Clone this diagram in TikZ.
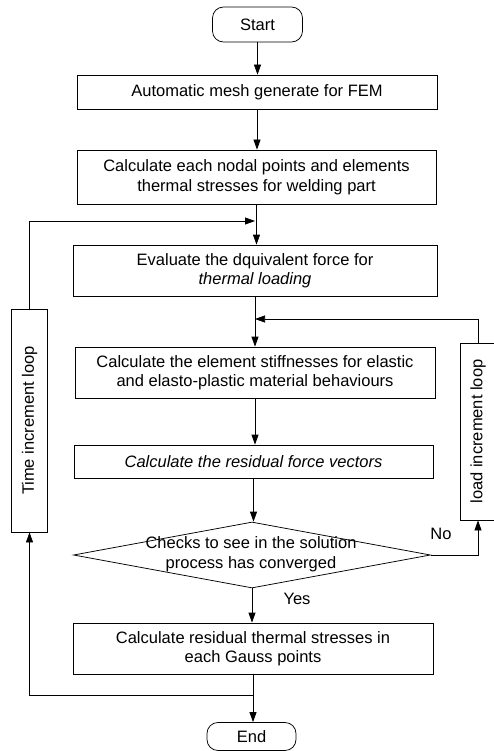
\documentclass[tikz,border=0pt]{standalone}
\usepackage{fontspec}
\setmainfont{Liberation Sans}
\usetikzlibrary{arrows.meta,shapes.geometric}
\begin{document}
\begin{tikzpicture}[x=1pt,y=-1pt,
  font=\fontsize{16.5}{19.5}\selectfont,
  line width=0.75pt,
  box/.style={draw, rectangle, align=center, inner sep=0pt},
  term/.style={draw, rectangle, rounded corners=11pt, inner sep=0pt},
  arr/.style={-{Triangle[length=10pt,width=7pt]}}]
\useasboundingbox (0,0) rectangle (494,751);
% main column
\node[term, minimum width=90pt, minimum height=35pt] (start) at (257.5,24.5) {Start};
\node[box, minimum width=360pt, minimum height=34pt] (b1) at (257,92) {Automatic mesh generate for FEM};
\node[box, minimum width=359pt, minimum height=54pt] (b2) at (256.5,177) {Calculate each nodal points and elements\\thermal stresses for welding part};
\node[box, minimum width=364pt, minimum height=51pt] (b3) at (255,270.5) {Evaluate the dquivalent force for\\\textit{thermal loading}};
\node[box, minimum width=360pt, minimum height=51pt] (b4) at (255,372.5) {Calculate the element stiffnesses for elastic\\and elasto-plastic material behaviours};
\node[box, minimum width=359pt, minimum height=33pt] (b5) at (253.5,461.5) {\textit{Calculate the residual force vectors}};
\node[draw, diamond, minimum width=357pt, minimum height=66pt, inner sep=0pt] (chk) at (252,555) {};
\node[align=center, inner sep=0pt] (chktxt) at (251,554) {Checks to see in the solution\\process has converged};
\node[box, minimum width=360pt, minimum height=51pt] (b6) at (253,648.5) {Calculate residual thermal stresses in\\each Gauss points};
\node[term, minimum width=89pt, minimum height=28pt] (end) at (251.5,736.5) {End};
% loop boxes
\node[box, minimum width=36pt, minimum height=223pt] (time) at (29.5,420.5) {\rotatebox{90}{Time increment loop}};
\node[box, minimum width=36pt, minimum height=177pt] (load) at (478,431.5) {\rotatebox{90}{load increment loop}};
% labels
\node (no) at (441,534) {No};
\node (yes) at (297,599) {Yes};
% junction coordinates
\coordinate (tin) at (255,221);
\coordinate (lin) at (255,319);
\coordinate (tj) at (253,695);
% main arrows
\draw[arr] (start.south) -- (start.south |- b1.north);
\draw[arr] (b1.south) -- (b1.south |- b2.north);
\draw[arr] (b2.south) -- (b2.south |- b3.north);
\draw[arr] (b3.south) -- (b3.south |- b4.north);
\draw[arr] (b4.south) -- (b4.south |- b5.north);
\draw[arr] (b5.south) -- (b5.south |- chk.north);
\draw[arr] (chk.south) -- (chk.south |- b6.north);
\draw[arr] (b6.south) -- (b6.south |- end.north);
% loops
\draw[arr] (chk.east) -| (load.south);
\draw[arr] (load.north) |- (lin);
\draw[arr] (tj) -| (time.south);
\draw[arr] (time.north) |- (tin);
\end{tikzpicture}
\end{document}
